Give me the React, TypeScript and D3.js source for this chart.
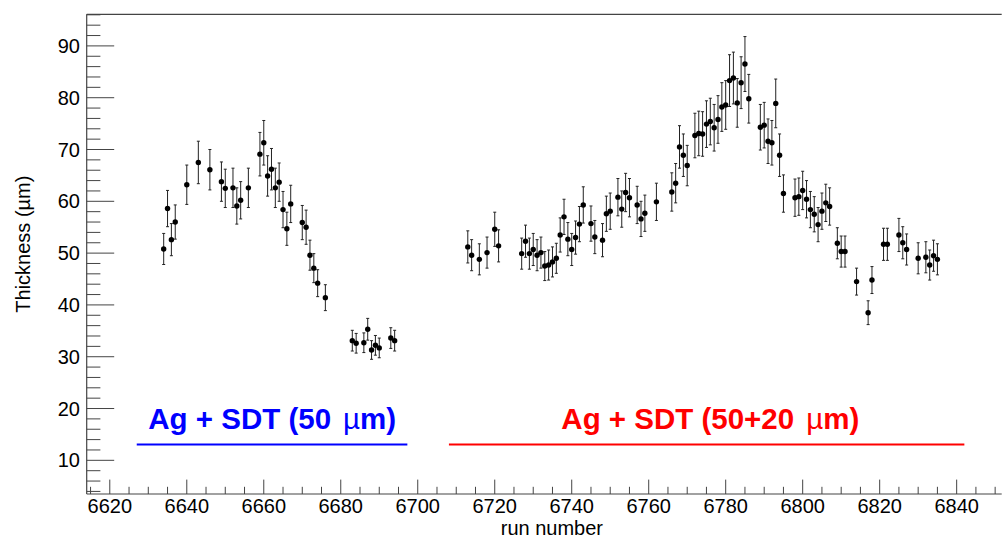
import React from "react";
import * as d3 from "d3";

// ---- data (run number, thickness in µm, error) ----
const runsA = [6634, 6635, 6636, 6637, 6640, 6643, 6646, 6649, 6650, 6652, 6653, 6654, 6656, 6659, 6660, 6661, 6662, 6663, 6664, 6665, 6666, 6667, 6670, 6671, 6672, 6673, 6674, 6676, 6683, 6684, 6686, 6687, 6688, 6689, 6690, 6693, 6694];
const thickA = [50.8, 58.6, 52.6, 56.0, 63.2, 67.5, 66.1, 63.8, 62.5, 62.6, 59.1, 60.2, 62.6, 69.1, 71.3, 64.9, 66.2, 62.6, 63.7, 58.4, 54.7, 59.5, 55.9, 55.0, 49.6, 47.1, 44.2, 41.4, 33.1, 32.6, 32.7, 35.3, 31.3, 32.2, 31.7, 33.6, 33.1];
const errA = [3.0, 3.5, 3.1, 3.3, 3.8, 4.1, 3.9, 3.8, 3.7, 3.8, 3.5, 3.6, 3.8, 4.2, 4.3, 3.9, 4.0, 3.8, 3.7, 3.5, 3.2, 3.6, 3.3, 3.3, 2.9, 2.8, 2.6, 2.5, 2.0, 1.9, 1.9, 2.1, 1.8, 1.9, 1.9, 2.0, 2.0];

const runsB = [6713, 6714, 6716, 6718, 6720, 6721, 6727, 6728, 6729, 6730, 6731, 6732, 6733, 6734, 6735, 6736, 6737, 6738, 6739, 6740, 6741, 6742, 6743, 6745, 6746, 6748, 6749, 6750, 6752, 6753, 6754, 6755, 6757, 6758, 6759, 6762, 6766, 6767, 6768, 6769, 6770, 6772, 6773, 6774, 6775, 6776, 6777, 6778, 6779, 6780, 6781, 6782, 6783, 6784, 6785, 6786, 6789, 6790, 6791, 6792, 6793, 6794, 6795, 6798, 6799, 6800, 6801, 6802, 6803, 6804, 6805, 6806, 6807, 6809, 6810, 6811, 6814, 6817, 6818, 6821, 6822, 6825, 6826, 6827, 6830, 6832, 6833, 6834, 6835];
const thickB = [51.2, 49.6, 48.8, 50.1, 54.6, 51.4, 49.9, 52.3, 49.9, 50.7, 49.6, 50.1, 47.5, 47.7, 48.3, 49.0, 53.5, 57.0, 52.7, 50.7, 53.0, 55.6, 59.3, 55.7, 53.1, 52.5, 57.6, 58.1, 60.8, 58.5, 61.7, 60.7, 59.3, 56.6, 57.7, 59.9, 61.8, 63.5, 70.5, 68.9, 66.9, 72.7, 73.1, 73.0, 74.9, 75.4, 74.2, 75.8, 78.2, 78.6, 83.3, 83.8, 79.0, 82.9, 86.5, 79.8, 74.3, 74.7, 71.6, 71.3, 78.9, 68.9, 61.5, 60.7, 60.9, 62.1, 60.4, 58.4, 57.5, 55.5, 58.1, 59.7, 59.0, 51.9, 50.3, 50.3, 44.5, 38.5, 44.8, 51.7, 51.7, 53.5, 52.0, 50.7, 49.0, 49.2, 47.7, 49.5, 48.8];
const errB = [3.1, 3.0, 3.0, 3.0, 3.3, 3.1, 3.0, 3.1, 3.0, 3.1, 3.0, 3.0, 2.8, 2.9, 2.9, 2.9, 3.3, 3.4, 3.2, 3.1, 3.2, 3.4, 3.5, 3.4, 3.2, 3.2, 3.4, 3.5, 3.6, 3.5, 3.7, 3.7, 3.6, 3.4, 3.5, 3.6, 3.7, 3.8, 4.1, 4.1, 3.9, 4.3, 4.3, 4.3, 4.5, 4.5, 4.5, 4.6, 4.7, 4.7, 5.0, 5.0, 4.7, 5.0, 5.3, 4.7, 4.4, 4.4, 4.3, 4.3, 4.7, 4.1, 3.6, 3.6, 3.6, 3.7, 3.6, 3.5, 3.4, 3.3, 3.5, 3.6, 3.6, 3.0, 3.0, 3.0, 2.6, 2.3, 2.6, 3.1, 3.1, 3.2, 3.1, 3.0, 3.0, 3.0, 2.9, 3.0, 3.0];

const xMajorTicks = [6620, 6640, 6660, 6680, 6700, 6720, 6740, 6760, 6780, 6800, 6820, 6840];
const yMajorTicks = [10, 20, 30, 40, 50, 60, 70, 80, 90];

const xDomain = [6614, 6851.7];
const yDomain = [3.5, 96.1];

const labelA = { text: "Ag + SDT (50", unit: "µm)", from: 6627, to: 6697.3, textRun: 6662.2, color: "#0000ff" };
const labelB = { text: "Ag + SDT (50+20", unit: "µm)", from: 6708.1, to: 6842, textRun: 6776, color: "#ff0000" };

const W = 1002;
const H = 537;
const left = 86.7;
const right = 1001.7;
const top = 14.3;
const bottom = 494;

export default function App() {
  const x = d3.scaleLinear().domain(xDomain).range([left, right]);
  const y = d3.scaleLinear().domain(yDomain).range([bottom, top]);

  const xMinor = d3.range(6615, 6851, 5).filter((v) => v % 20 !== 0);
  const yMinor = d3.range(4, 97, 2).filter((v) => v % 10 !== 0);

  const points = [
    ...runsA.map((r, i) => ({ r, v: thickA[i], e: errA[i] })),
    ...runsB.map((r, i) => ({ r, v: thickB[i], e: errB[i] })),
  ];

  const font = "'Liberation Sans', Arial, Helvetica, sans-serif";
  const axisColor = "#444";
  const yLabelY = 428.5;
  const lineY = 444.5;

  const label = (l: typeof labelA) => {
    const cx = x(l.textRun);
    return (
      <g>
        <text
          x={cx}
          y={yLabelY}
          textAnchor="middle"
          fontFamily={font}
          fontWeight="bold"
          fontSize={29.5}
          fill={l.color}
        >
          {l.text}
          <tspan dx={12} fontWeight="normal">{l.unit.slice(0, 1)}</tspan>
          <tspan fontWeight="bold">{l.unit.slice(1)}</tspan>
        </text>
        <line x1={x(l.from)} x2={x(l.to)} y1={lineY} y2={lineY} stroke={l.color} strokeWidth={1.8} />
      </g>
    );
  };

  return (
    <svg width={W} height={H} style={{ position: "absolute", left: 0, top: 0, background: "#fff" }}>
      <rect x={0} y={0} width={W} height={H} fill="#fff" />
      {/* frame */}
      <line x1={left} x2={right} y1={top} y2={top} stroke={axisColor} strokeWidth={1.2} />
      <line x1={left} x2={left} y1={top} y2={bottom} stroke={axisColor} strokeWidth={1.2} />
      <line x1={left} x2={right} y1={bottom} y2={bottom} stroke={axisColor} strokeWidth={1.2} />

      {/* y ticks */}
      {yMajorTicks.map((t) => (
        <g key={"ym" + t}>
          <line x1={left} x2={left + 27.5} y1={y(t)} y2={y(t)} stroke={axisColor} strokeWidth={1} />
          <text x={80} y={y(t)} dy="0.35em" textAnchor="end" fontFamily={font} fontSize={20} fill="#000">
            {t}
          </text>
        </g>
      ))}
      {yMinor.map((t) => (
        <line key={"yn" + t} x1={left} x2={left + 13.7} y1={y(t)} y2={y(t)} stroke={axisColor} strokeWidth={1} />
      ))}

      {/* x ticks */}
      {xMajorTicks.map((t) => (
        <g key={"xm" + t}>
          <line x1={x(t)} x2={x(t)} y1={bottom} y2={bottom - 14.4} stroke={axisColor} strokeWidth={1} />
          <text x={x(t)} y={513} textAnchor="middle" fontFamily={font} fontSize={20} fill="#000">
            {t}
          </text>
        </g>
      ))}
      {xMinor.map((t) => (
        <line key={"xn" + t} x1={x(t)} x2={x(t)} y1={bottom} y2={bottom - 7.2} stroke={axisColor} strokeWidth={1} />
      ))}

      {/* axis titles */}
      <text x={603} y={534.5} textAnchor="end" fontFamily={font} fontSize={20} fill="#000">
        run number
      </text>
      <text
        transform={`translate(30,${(top + bottom) / 2 - 10}) rotate(-90)`}
        textAnchor="middle"
        fontFamily={font}
        fontSize={20}
        fill="#000"
      >
        Thickness (µm)
      </text>

      {/* data */}
      {points.map((p, i) => {
        const cx = x(p.r);
        const cy = y(p.v);
        const y1 = y(p.v + p.e);
        const y2 = y(p.v - p.e);
        return (
          <g key={"p" + i}>
            <line x1={cx} x2={cx} y1={y1} y2={y2} stroke="#222" strokeWidth={1} />
            <line x1={cx - 1.5} x2={cx + 1.5} y1={y1} y2={y1} stroke="#222" strokeWidth={1} />
            <line x1={cx - 1.5} x2={cx + 1.5} y1={y2} y2={y2} stroke="#222" strokeWidth={1} />
            <circle cx={cx} cy={cy} r={2.7} fill="#000" />
          </g>
        );
      })}

      {label(labelA)}
      {label(labelB)}
    </svg>
  );
}
